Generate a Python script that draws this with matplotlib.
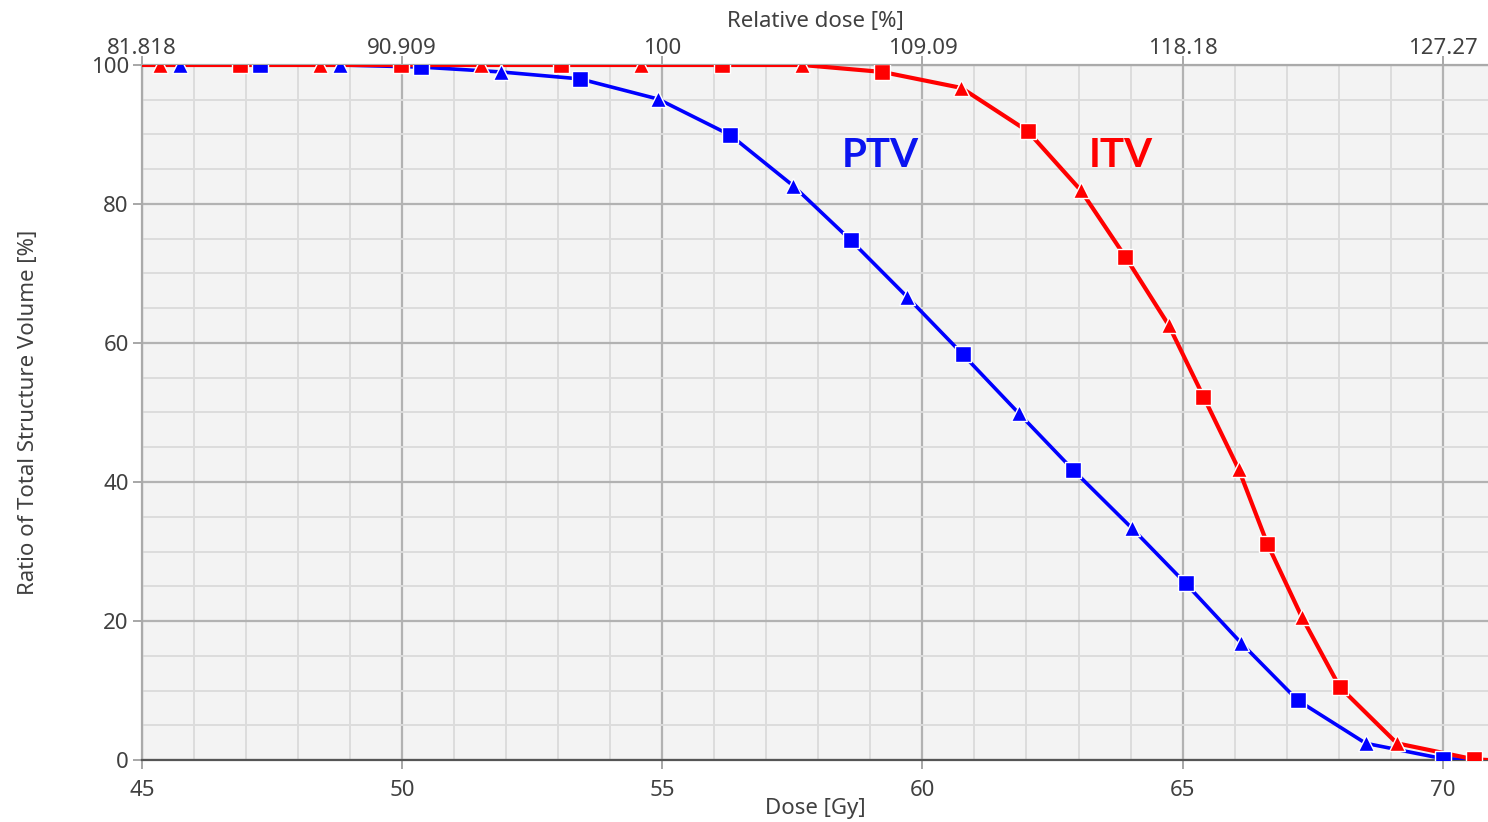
import matplotlib
matplotlib.use("Agg")
import matplotlib.pyplot as plt
from matplotlib.ticker import MultipleLocator

# Cumulative DVH, dose in Gy vs. ratio of structure volume in %
ptv_dose = [45.0, 45.73, 47.27, 48.81, 50.37, 51.90, 53.42, 54.92, 56.31, 57.52,
            58.62, 59.71, 60.77, 61.85, 62.90, 64.02, 65.06, 66.13, 67.21, 68.52,
            70.00, 70.87]
ptv_volume = [100.0, 100.0, 100.0, 100.0, 99.7, 99.0, 98.0, 95.1, 89.9, 82.6,
              74.8, 66.6, 58.4, 49.9, 41.7, 33.4, 25.4, 16.8, 8.6, 2.4,
              0.2, 0.0]

itv_dose = [45.0, 45.35, 46.88, 48.42, 49.98, 51.52, 53.06, 54.60, 56.15, 57.69,
            59.23, 60.75, 62.02, 63.04, 63.90, 64.73, 65.40, 66.08, 66.63, 67.29,
            68.02, 69.12, 70.60, 70.87]
itv_volume = [100.0, 100.0, 100.0, 100.0, 100.0, 100.0, 100.0, 100.0, 100.0, 100.0,
              99.0, 96.7, 90.5, 82.0, 72.4, 62.6, 52.3, 41.8, 31.1, 20.6,
              10.5, 2.4, 0.1, 0.0]

prescription_dose = 55.0
dose_ticks = [45, 50, 55, 60, 65, 70]
relative_labels = ["81.818", "90.909", "100", "109.09", "118.18", "127.27"]
volume_ticks = [0, 20, 40, 60, 80, 100]

BLUE = "#0000ff"
RED = "#ff0000"
TEXT = "#404040"
FONT = "Noto Sans"
FS = 16

fig = plt.figure(figsize=(14.88, 8.22), dpi=100)
ax = fig.add_axes([142 / 1488, 1 - 760 / 822, 1 - 142 / 1488, (760 - 65) / 822])
ax.set_facecolor("#f3f3f3")

ax.set_xlim(45, 70.87)
ax.set_ylim(0, 100)

# grid
ax.xaxis.set_minor_locator(MultipleLocator(1))
ax.yaxis.set_minor_locator(MultipleLocator(5))
ax.set_xticks(dose_ticks)
ax.set_yticks(volume_ticks)
ax.grid(which="minor", color="#dcdcdc", lw=1.4, zorder=0)
ax.grid(which="major", color="#b2b2b2", lw=1.6, zorder=0)
ax.set_axisbelow(True)
ax.tick_params(which="minor", length=0)
ax.tick_params(which="major", length=6.5, width=1.3, color="#a0a0a0",
               labelsize=FS, labelcolor=TEXT)
ax.tick_params(axis="x", pad=8)
ax.tick_params(axis="y", pad=3)

for side in ("top", "left"):
    ax.spines[side].set_color("#aaaaaa")
    ax.spines[side].set_linewidth(1.6)
ax.spines["right"].set_visible(False)
ax.spines["bottom"].set_color("#555555")
ax.spines["bottom"].set_linewidth(1.6)

for lab in ax.get_xticklabels() + ax.get_yticklabels():
    lab.set_fontfamily(FONT)

# curves
curves = [(ptv_dose, ptv_volume, BLUE, 2.6), (itv_dose, itv_volume, RED, 3.0)]
for dose, vol, col, lw in curves:
    ax.plot(dose, vol, color=col, lw=lw, zorder=3, solid_capstyle="round",
            solid_joinstyle="round")
    ax.plot(dose, vol, ls="none", marker="^", ms=12, color=col,
            mec="white", mew=1.0, markevery=slice(1, -1, 2), zorder=4)
    ax.plot(dose, vol, ls="none", marker="s", ms=11.5, color=col,
            mec="white", mew=1.0, markevery=slice(2, -1, 2), zorder=4)

ax.text(59.19, 87.0, "PTV", color="#0a14f0", fontsize=29, fontweight="bold",
        family="Lato", ha="center", va="center", zorder=5)
ax.text(63.81, 87.0, "ITV", color=RED, fontsize=29, fontweight="bold",
        family="Lato", ha="center", va="center", zorder=5)

# relative dose on the top axis
sec = ax.secondary_xaxis("top",
                         functions=(lambda d: d / prescription_dose * 100,
                                    lambda r: r * prescription_dose / 100))
sec.set_xticks([d / prescription_dose * 100 for d in dose_ticks], labels=relative_labels)
sec.tick_params(length=6.5, width=1.3, color="#a0a0a0", labelsize=FS,
                labelcolor=TEXT, pad=-2)
sec.spines["top"].set_visible(False)
for lab in sec.get_xticklabels():
    lab.set_fontfamily(FONT)
sec.set_xlabel("Relative dose [%]", fontsize=FS, color=TEXT, family=FONT, labelpad=8)

ax.set_xlabel("Dose [Gy]", fontsize=FS, color=TEXT, family=FONT, labelpad=-2)
ax.set_ylabel("Ratio of Total Structure Volume [%]", fontsize=FS, color=TEXT,
              family=FONT, labelpad=37)

fig.savefig("out.png", dpi=100)
